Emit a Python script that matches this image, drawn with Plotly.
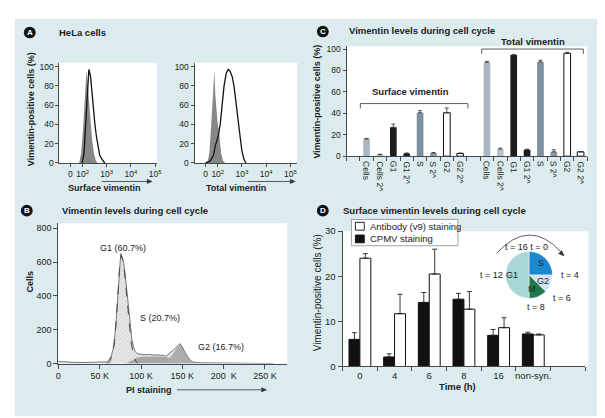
import plotly.graph_objects as go

W, H = 605, 418
def X(px): return px / W
def Y(py): return 1 - py / H

FONT = "Liberation Sans, Arial, sans-serif"
TXT = "#222222"
AX = "#4a4a4a"
PANEL_BG = "#dcecee"

# ---------------- DATA ----------------
# Panel A: flow cytometry histograms (x in decades: 1.5 = "0", 2 = 10^2 ...; y = % of max)
a_tick_vals = [1.5, 2, 3, 4, 5]
a_tick_text = ["0", "10<sup>2</sup>", "10<sup>3</sup>", "10<sup>4</sup>", "10<sup>5</sup>"]
surf_ctrl_x = [1.86, 1.94, 2.02, 2.10, 2.16, 2.22, 2.31, 2.39, 2.47, 2.55, 2.63]
surf_ctrl_y = [0, 10, 35, 70, 96, 80, 50, 25, 10, 2, 0]
surf_stain_x = [1.98, 2.06, 2.14, 2.22, 2.26, 2.33, 2.39, 2.45, 2.51, 2.57, 2.63, 2.71, 2.80, 2.92]
surf_stain_y = [0, 10, 45, 85, 97, 90, 72, 58, 40, 28, 18, 8, 4, 0]
tot_ctrl_x = [1.57, 1.65, 1.73, 1.82, 1.86, 1.90, 1.98, 2.06, 2.14, 2.22, 2.31]
tot_ctrl_y = [0, 10, 40, 80, 96, 70, 45, 30, 10, 2, 0]
tot_stain_x = [1.49, 1.69, 1.82, 1.90, 2.02, 2.10, 2.18, 2.26, 2.35, 2.43, 2.51,
               2.59, 2.67, 2.75, 2.84, 2.92, 3.00, 3.08, 3.16]
tot_stain_y = [0, 2, 8, 18, 28, 40, 60, 80, 93, 97, 95, 90, 80, 65, 45, 28, 12, 4, 0]

# Panel B: PI staining histogram (x in K, y = cells)
b_tick_vals = [0, 50, 100, 150, 200, 250]
b_tick_text = ["0", "50 K", "100 K", "150 K", "200  K", "250 K"]
b_x = [0, 5, 10, 20, 30, 40, 50, 55, 58, 61, 64, 66, 68, 70, 72, 74, 75.5, 76.5, 77.5, 79,
       81, 83, 85, 87, 89, 91, 93, 96, 100, 105, 110, 115, 120, 124, 127, 130, 133, 136, 139, 142,
       145, 147, 149, 151, 154, 157, 160, 163, 166, 170, 180, 200, 220, 240, 255, 260]
b_y = [12, 10, 8, 7, 6, 6, 6, 7, 10, 20, 45, 80, 150, 260, 400, 540, 650, 640, 620, 600,
       520, 420, 310, 210, 140, 95, 70, 58, 55, 52, 55, 50, 52, 48, 50, 42, 55, 70, 80, 92,
       108, 118, 105, 85, 60, 38, 18, 8, 5, 5, 4, 4, 4, 4, 3, 0]
g1_fit_x = [58, 62, 66, 68, 70, 72, 74, 76, 78, 80, 82, 84, 86, 88, 90, 93, 96]
g1_fit_y = [0, 10, 60, 130, 250, 400, 560, 640, 610, 540, 440, 330, 220, 130, 70, 20, 0]
s_fit_x = [82, 86, 90, 95, 100, 110, 120, 128, 134, 140, 146, 150]
s_fit_y = [0, 12, 25, 35, 40, 42, 42, 40, 35, 25, 10, 0]
g2_fit_x = [128, 132, 136, 140, 143, 146, 148, 150, 153, 156, 160, 164, 168]
g2_fit_y = [0, 15, 40, 70, 95, 110, 112, 100, 70, 40, 15, 4, 0]
b_phase_labels = ["G1 (60.7%)", "S (20.7%)", "G2 (16.7%)"]

# Panel C: vimentin levels per phase
c_labels = ["Cells", "Cells 2^", "G1", "G1 2^", "S", "S 2^", "G2", "G2 2^"]
c_surface = [16, 1.5, 27, 2.5, 40.5, 3, 40.5, 2.5]
c_surface_err = [0.5, 0.3, 3, 0.5, 2, 0.3, 4.5, 0.5]
c_total = [87.5, 6.5, 94.5, 6, 88, 4, 96, 4]
c_total_err = [1, 1, 0.5, 0.5, 1.5, 2, 1, 0.3]
c_colors = ["#a9b8c4", "#b6c1cb", "#1c1c1c", "#1c1c1c", "#7d8fa0", "#8797a6", "#ffffff", "#ffffff"]
c_edge = [0, 0, 0, 0, 0, 0, 1, 1]

# Panel D: surface vimentin over time
d_times = ["0", "4", "6", "8", "16", "non-syn."]
d_cpmv = [6.0, 2.1, 14.2, 14.9, 6.9, 7.2]
d_cpmv_err = [1.5, 0.7, 2.2, 1.3, 1.3, 0.4]
d_ab = [24.0, 11.7, 20.5, 12.7, 8.6, 7.0]
d_ab_err = [1.0, 4.3, 5.5, 3.9, 2.2, 0.2]
pie_phases = ["S", "G2", "M", "G1"]
pie_hours = [4, 2, 2, 8]
pie_colors = ["#1b88d2", "#d3e3f2", "#1d7a4f", "#a9d7d7"]

# ---------------- FIGURE ----------------
fig = go.Figure()

def line_trace(x, y, xa, ya, color, width, dash="solid"):
    return go.Scatter(x=x, y=y, mode="lines", line=dict(color=color, width=width, dash=dash),
                      xaxis=xa, yaxis=ya, hoverinfo="skip", showlegend=False)

def fill_trace(x, y, xa, ya, color, **kw):
    return go.Scatter(x=x, y=y, mode="lines", fill="tozeroy", fillcolor=color,
                      line=dict(width=0, color=color), xaxis=xa, yaxis=ya,
                      hoverinfo="skip", showlegend=False, **kw)

# A
fig.add_trace(fill_trace(surf_ctrl_x, surf_ctrl_y, "x", "y", "#878787"))
fig.add_trace(line_trace(surf_stain_x, surf_stain_y, "x", "y", "#111111", 1.3))
fig.add_trace(fill_trace(tot_ctrl_x, tot_ctrl_y, "x2", "y2", "#878787"))
fig.add_trace(line_trace(tot_stain_x, tot_stain_y, "x2", "y2", "#111111", 1.3))

# B
fig.add_trace(fill_trace(b_x, b_y, "x3", "y3", "#e0e0e0",
                         fillpattern=dict(shape="/", fgcolor="#a8a8a8", bgcolor="#e6e6e6",
                                          size=3, solidity=0.2)))
fig.add_trace(fill_trace(s_fit_x, s_fit_y, "x3", "y3", "#a6a6a6"))
fig.add_trace(fill_trace(g2_fit_x, g2_fit_y, "x3", "y3", "#adadad"))
fig.add_trace(line_trace(b_x, b_y, "x3", "y3", "#6a6a6a", 0.9))
fig.add_trace(line_trace(g1_fit_x, g1_fit_y, "x3", "y3", "#444444", 1, "dash"))

# C
c_pos = list(range(8)) + list(range(9, 17))
fig.add_trace(go.Bar(
    x=c_pos, y=c_surface + c_total, width=0.5,
    marker=dict(color=c_colors * 2, line=dict(color="#111111", width=c_edge * 2)),
    error_y=dict(type="data", symmetric=False, array=c_surface_err + c_total_err,
                 arrayminus=[0] * 16, color="#333333", thickness=0.8, width=2),
    xaxis="x4", yaxis="y4", hoverinfo="skip", showlegend=False))

# D
d_pos = list(range(len(d_times)))
fig.add_trace(go.Bar(
    x=d_pos, y=d_cpmv, marker=dict(color="#111111", line=dict(color="#111111", width=1)),
    error_y=dict(type="data", symmetric=False, array=d_cpmv_err, arrayminus=[0] * 6,
                 color="#222222", thickness=0.9, width=2.5),
    xaxis="x5", yaxis="y5", hoverinfo="skip", showlegend=False))
fig.add_trace(go.Bar(
    x=d_pos, y=d_ab, marker=dict(color="#ffffff", line=dict(color="#111111", width=1)),
    error_y=dict(type="data", symmetric=False, array=d_ab_err, arrayminus=[0] * 6,
                 color="#222222", thickness=0.9, width=2.5),
    xaxis="x5", yaxis="y5", hoverinfo="skip", showlegend=False))

# Pie inset
pcx, pcy, pr = 525, 268, 24
fig.add_trace(go.Pie(values=pie_hours, labels=pie_phases, sort=False, direction="clockwise",
                     rotation=0, textinfo="none", hoverinfo="skip", showlegend=False,
                     marker=dict(colors=pie_colors, line=dict(color="white", width=0.4)),
                     domain=dict(x=[X(pcx - pr), X(pcx + pr)], y=[Y(pcy + pr), Y(pcy - pr)])))

# ---------------- AXES ----------------
def ax(domain, rng, **kw):
    d = dict(domain=domain, range=rng, showgrid=False, zeroline=False, showline=True,
             linecolor=AX, linewidth=1, ticks="outside", ticklen=3, tickwidth=1, tickcolor=AX,
             tickfont=dict(size=8.5, color=TXT, family=FONT), fixedrange=True)
    d.update(kw)
    return d

fig.update_layout(
    xaxis=ax([X(49), X(148)], [1.04, 5.08], anchor="y", tickmode="array",
             tickvals=a_tick_vals, ticktext=a_tick_text),
    yaxis=ax([Y(153), Y(50)], [0, 104], anchor="x", tickvals=[0, 20, 40, 60, 80, 100]),
    xaxis2=ax([X(186), X(290)], [1.04, 5.28], anchor="y2", tickmode="array",
              tickvals=a_tick_vals, ticktext=a_tick_text),
    yaxis2=ax([Y(153), Y(50)], [0, 104], anchor="x2", tickvals=[0, 20, 40, 60, 80, 100]),
    xaxis3=ax([X(48), X(280)], [0, 277], anchor="y3", tickmode="array",
              tickvals=b_tick_vals, ticktext=b_tick_text, ticklen=4,
              tickfont=dict(size=9, color=TXT, family=FONT)),
    yaxis3=ax([Y(359), Y(215)], [0, 829], anchor="x3", tickvals=[0, 200, 400, 600, 800],
              ticklen=4, tickfont=dict(size=9, color=TXT, family=FONT)),
    xaxis4=ax([X(340), X(584)], [-1.5, 16.5], anchor="y4", ticks="", showticklabels=False,
              minor=dict(tick0=-0.5, dtick=1, ticks="outside", ticklen=4, tickcolor=AX)),
    yaxis4=ax([Y(146), Y(33)], [0, 102.7], anchor="x4", tickvals=[0, 20, 40, 60, 80, 100],
              tickfont=dict(size=8.5, color=TXT, family=FONT)),
    xaxis5=ax([X(336), X(582)], [-0.5, 6.5], anchor="y5", tickmode="array",
              tickvals=d_pos, ticktext=d_times, ticks="",
              tickfont=dict(size=9.5, color=TXT, family=FONT),
              minor=dict(tick0=-0.5, dtick=1, ticks="outside", ticklen=4, tickcolor=AX)),
    yaxis5=ax([Y(362), Y(223)], [0, 30], anchor="x5", tickvals=[0, 10, 20, 30], ticklen=4,
              tickfont=dict(size=9.5, color=TXT, family=FONT)),
    barmode="group", bargap=0.37, bargroupgap=0,
)

# ---------------- SHAPES ----------------
shapes = []
def rect(x0, y0, x1, y1, fill, line=None, lw=0, layer="below"):
    return dict(type="rect", xref="paper", yref="paper", x0=X(x0), x1=X(x1), y0=Y(y1), y1=Y(y0),
                fillcolor=fill, line=dict(color=line or fill, width=lw), layer=layer)

shapes.append(rect(4, 5, 601, 413, PANEL_BG))
for (x0, y0, x1, y1) in [(49, 50, 148, 153), (186, 50, 290, 153), (48, 215, 280, 359),
                         (340, 33, 584, 146), (336, 223, 585, 362)]:
    shapes.append(rect(x0, y0, x1, y1, "#ffffff"))

def circle(cx, cy, r=6):
    return dict(type="circle", xref="paper", yref="paper", x0=X(cx - r), x1=X(cx + r),
                y0=Y(cy + r), y1=Y(cy - r), fillcolor="#111111", line=dict(width=0), layer="above")

badges = [("A", 19, 19), ("C", 316, 18), ("B", 16, 202), ("D", 316, 202)]
for _, cx, cy in badges:
    shapes.append(circle(cx, cy))

def path(pts, color="#333333", width=0.8, fill=None, close=False):
    d = "M " + " L ".join(f"{X(px):.5f},{Y(py):.5f}" for px, py in pts)
    if close:
        d += " Z"
    s = dict(type="path", xref="paper", yref="paper", path=d,
             line=dict(color=color, width=width), layer="above")
    if fill:
        s["fillcolor"] = fill
    return s

def hline(x0, x1, y, color="#333333", width=0.8):
    return path([(x0, y), (x1, y)], color, width)

def head_right(tx, ty, L=5, w=2.2):
    return path([(tx, ty), (tx - L, ty - w), (tx - L, ty + w)], "#333333", 0.5, "#333333", True)

# brackets in C
shapes.append(path([(354, 97), (354, 92), (463, 92), (463, 97)]))
shapes.append(path([(477, 41), (477, 36), (580, 36), (580, 41)]))
# axis arrows
shapes.append(hline(92, 140, 172))
shapes.append(head_right(143, 172))
shapes.append(hline(240, 285, 172))
shapes.append(head_right(288, 172))
shapes.append(hline(168, 256, 386))
shapes.append(head_right(259, 386))
# curved arrow around pie
shapes.append(dict(type="path", xref="paper", yref="paper",
                   path=f"M {X(492):.5f},{Y(246):.5f} Q {X(525):.5f},{Y(209):.5f} {X(557):.5f},{Y(244):.5f}",
                   line=dict(color="#333333", width=0.8), layer="above"))
shapes.append(path([(560.5, 248.5), (554.9, 246.1), (558.1, 242.9)], "#333333", 0.5, "#333333", True))
# legend in D
shapes.append(rect(345, 211, 453, 238, "#ffffff", "#8a8a8a", 0.8, "above"))
shapes.append(rect(349, 214, 358, 222, "#ffffff", "#111111", 0.9, "above"))
shapes.append(rect(349, 227, 358, 235, "#111111", "#111111", 0.9, "above"))

fig.update_layout(shapes=shapes)

# ---------------- ANNOTATIONS ----------------
ann = []
def txt(px, py, s, size=9, bold=False, xanchor="center", yanchor="middle", angle=0, color=TXT):
    return dict(x=X(px), y=Y(py), xref="paper", yref="paper",
                text=f"<b>{s}</b>" if bold else s, showarrow=False,
                font=dict(family=FONT, size=size, color=color),
                xanchor=xanchor, yanchor=yanchor, textangle=angle)

for letter, cx, cy in badges:
    ann.append(txt(cx, cy, letter, 8, True, color="#ffffff"))

ann.append(txt(47, 19, "HeLa cells", 9.5, True, "left"))
ann.append(txt(340, 17, "Vimentin levels during cell cycle", 9.5, True, "left"))
ann.append(txt(50, 202, "Vimentin levels during cell cycle", 9.5, True, "left"))
ann.append(txt(334, 202, "Surface vimentin levels during cell cycle", 9.5, True, "left"))

# axis titles
ann.append(txt(21, 98, "Vimentin-positive cells (%)", 9, True, angle=-90))
ann.append(txt(95, 179, "Surface vimentin", 9, True))
ann.append(txt(228, 179, "Total vimentin", 9, True))
ann.append(txt(19, 275, "Cells", 9, True, angle=-90))
ann.append(txt(140, 386, "PI staining", 9, True))
ann.append(txt(310, 90, "Vimentin-positive cells (%)", 9, True, angle=-90))
ann.append(txt(311, 286, "Vimentin-positive cells (%)", 10, False, angle=-90))
ann.append(txt(452, 383, "Time (h)", 9.5, True))

# panel C category labels (rotated, read top-to-bottom)
for pos, lab in zip(c_pos, c_labels * 2):
    ann.append(dict(x=pos, y=Y(149), xref="x4", yref="paper", text=lab, showarrow=False,
                    font=dict(family=FONT, size=8.5, color=TXT), textangle=89.9,
                    xanchor="center", yanchor="top"))

# panel B phase labels
ann.append(txt(114, 240, b_phase_labels[0], 9))
ann.append(txt(151, 312, b_phase_labels[1], 9))
ann.append(txt(213, 342, b_phase_labels[2], 9))

# panel C bracket labels
ann.append(txt(405, 80, "Surface vimentin", 9.5, True))
ann.append(txt(529, 28, "Total vimentin", 9.5, True))

# legend D
ann.append(txt(362, 218, "Antibody (v9) staining", 9.5, False, "left"))
ann.append(txt(362, 231, "CPMV staining", 9.5, False, "left"))

# pie labels
ann.append(txt(537, 256, pie_phases[0], 9))
ann.append(txt(539, 274, pie_phases[1], 9))
ann.append(txt(528, 282, pie_phases[2], 9))
ann.append(txt(508, 268, pie_phases[3], 9))
ann.append(txt(522, 239, "t = 16 t = 0", 9))
ann.append(txt(487, 268, "t = 12", 9))
ann.append(txt(566, 268, "t = 4", 9))
ann.append(txt(558, 292, "t = 6", 9))
ann.append(txt(532, 301, "t = 8", 9))

fig.update_layout(annotations=ann)

fig.update_layout(width=W, height=H, margin=dict(l=0, r=0, t=0, b=0),
                  paper_bgcolor="#ffffff", plot_bgcolor="rgba(0,0,0,0)",
                  font=dict(family=FONT, color=TXT), showlegend=False)

fig.write_html("out.html")
